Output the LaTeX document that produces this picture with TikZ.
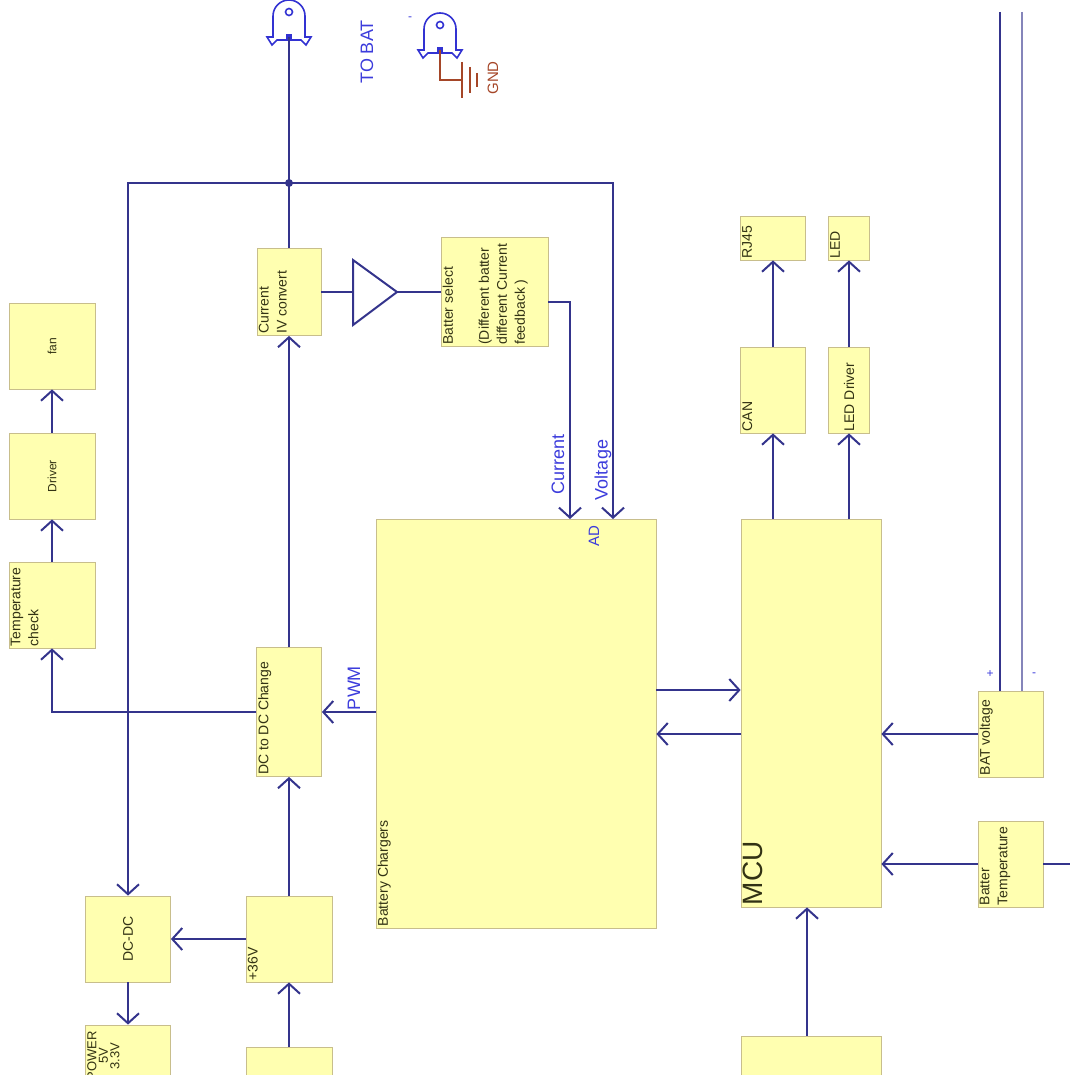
\documentclass[tikz,border=0pt]{standalone}
\usepackage{fontspec}
\setmainfont{Liberation Sans}
\usetikzlibrary{arrows.meta}
\definecolor{boxfill}{RGB}{255,255,176}
\definecolor{boxline}{RGB}{200,190,140}
\definecolor{boxtext}{RGB}{50,50,20}
\definecolor{wirecol}{RGB}{52,52,140}
\definecolor{sigblue}{RGB}{60,60,220}
\definecolor{pinblue}{RGB}{50,50,210}
\definecolor{gndbrown}{RGB}{165,70,40}
\begin{document}
\begin{tikzpicture}[x=1pt, y=-1pt,
    box/.style={draw=boxline, fill=boxfill, line width=0.8pt, inner sep=0pt},
    txt/.style={rotate=90, anchor=north west, align=left, inner sep=2pt, text=boxtext, font=\fontsize{14}{18}\selectfont},
    ctxt/.style={rotate=90, text=boxtext, font=\fontsize{14}{18}\selectfont},
    sig/.style={rotate=90, text=sigblue, font=\fontsize{18}{20}\selectfont},
    wire/.style={draw=wirecol, line width=2pt},
    arr/.style={wire, -{Straight Barb[length=10pt, width=22pt]}},
    pin/.style={draw=pinblue, line width=1.6pt},
    gnd/.style={draw=gndbrown, line width=1.6pt}]
  \useasboundingbox (0,0) rectangle (1069,1075);

  \node[box, minimum width=86pt, minimum height=86pt] (fan) at (52,346) {};
  \node[box, minimum width=86pt, minimum height=86pt] (driver) at (52,476) {};
  \node[box, minimum width=86pt, minimum height=86pt] (tcheck) at (52,605) {};
  \node[box, minimum width=64pt, minimum height=87pt] (iv) at (289,292) {};
  \node[box, minimum width=107pt, minimum height=109pt] (bsel) at (494.5,292) {};
  \node[box, minimum width=65pt, minimum height=44pt] (rj45) at (773,238) {};
  \node[box, minimum width=41pt, minimum height=44pt] (led) at (849,238) {};
  \node[box, minimum width=65pt, minimum height=86pt] (can) at (773,390) {};
  \node[box, minimum width=41pt, minimum height=86pt] (ledd) at (849,390) {};
  \node[box, minimum width=280pt, minimum height=409pt] (bchg) at (516,723.5) {};
  \node[box, minimum width=140pt, minimum height=388pt] (mcu) at (811,713) {};
  \node[box, minimum width=65pt, minimum height=129pt] (dcdc2) at (289,712) {};
  \node[box, minimum width=65pt, minimum height=86pt] (batv) at (1010.5,734) {};
  \node[box, minimum width=65pt, minimum height=86pt] (batt) at (1010.5,864) {};
  \node[box, minimum width=85pt, minimum height=86pt] (dcdc) at (128,939) {};
  \node[box, minimum width=86pt, minimum height=86pt] (v36) at (289,939) {};
  \node[box, minimum width=85pt, minimum height=86pt] (power) at (128,1068) {};
  \node[box, minimum width=86pt, minimum height=86pt] (src) at (289,1090) {};
  \node[box, minimum width=140pt, minimum height=86pt] (mcub) at (811,1079) {};

  \node[ctxt, font=\fontsize{12}{14}\selectfont] (fan-t) at (fan.center) {fan};
  \node[ctxt, font=\fontsize{12}{14}\selectfont] (driver-t) at (driver.center) {Driver};
  \node[txt] (tcheck-t) at (tcheck.south west) {Temperature\\check};
  \node[txt] (iv-t) at (iv.south west) {Current\\IV convert};
  \node[txt] (bsel-t) at (bsel.south west) {Batter select\\ \\(Different batter\\different Current\\feedback )};
  \node[txt] (rj45-t) at (rj45.south west) {RJ45};
  \node[txt] (led-t) at (led.south west) {LED};
  \node[txt] (can-t) at (can.south west) {CAN};
  \node[txt, anchor=west] (ledd-t) at (ledd.south) {LED Driver};
  \node[txt] (bchg-t) at (bchg.south west) {Battery Chargers};
  \node[txt, font=\fontsize{28}{30}\selectfont] (mcu-t) at (mcu.south west) {MCU};
  \node[txt] (dcdc2-t) at (dcdc2.south west) {DC to DC Change};
  \node[txt] (batv-t) at (batv.south west) {BAT voltage};
  \node[txt] (batt-t) at (batt.south west) {Batter\\Temperature};
  \node[ctxt] (dcdc-t) at (dcdc.center) {DC-DC};
  \node[txt] (v36-t) at (v36.south west) {+36V};
  \node[ctxt, align=center, anchor=north, inner sep=1pt, font=\fontsize{13}{11.5}\selectfont] (power-t) at (86,1056) {POWER\\5V\\3.3V};

  \coordinate (bat-p) at (289,37);
  \coordinate (bat-n) at (440,50);
  \foreach \p in {bat-p,bat-n}{
    \begin{scope}[shift={(\p)}]
      \draw[pin] (-16,0) -- (-16,-21) arc[start angle=180, end angle=360, radius=16] -- (16,0) -- (22,0) -- (17,8) -- (12,3) -- (-12,3) -- (-17,8) -- (-22,0) -- cycle;
      \draw[pin] (0,-25) circle[radius=3.5];
      \fill[pinblue] (-3,-3) rectangle (3,3);
    \end{scope}
  }
  \draw[gnd] (bat-n) -- ++(0,30) -- ++(22,0) coordinate (gnd-c);
  \draw[gnd] ([yshift=18pt]gnd-c) -- ([yshift=-18pt]gnd-c);
  \draw[gnd] ([shift={(8pt,13pt)}]gnd-c) -- ([shift={(8pt,-13pt)}]gnd-c);
  \draw[gnd] ([shift={(15pt,7pt)}]gnd-c) -- ([shift={(15pt,-7pt)}]gnd-c);
  \node[sig] (tobat) at (367,52) {TO BAT};
  \node[rotate=90, text=gndbrown, font=\fontsize{15}{17}\selectfont] (gnd-t) at (493,78) {GND};
  \node[text=sigblue, font=\fontsize{12}{12}\selectfont] (neg-t) at (410,19) {-};

  \coordinate (jn) at (289,183);
  \coordinate (bsel-o) at (548,302);
  \coordinate (bchg-i) at (570,519);
  \coordinate (bchg-v) at (613,519);
  \coordinate (amp-in) at (353,292);
  \coordinate (amp-out) at (397,292);
  \coordinate (lvl1) at (0,690);
  \coordinate (lvl2) at (0,734);
  \coordinate (bp-top) at (1000,12);
  \coordinate (bm-top) at (1022,12);
  \coordinate (edge-r) at (1075,864);

  \draw[wire] (bat-p) -- (jn) -- (iv.north);
  \fill[wirecol] (jn) circle[radius=4];
  \draw[arr] (jn) -| (dcdc.north);
  \draw[arr] (jn) -| (bchg-v);
  \draw[wire] (353,260) -- (amp-out) -- (353,325) -- cycle;
  \draw[wire] (iv.east) -- (amp-in);
  \draw[wire] (amp-out) -- (bsel.west);
  \draw[arr] (bsel-o) -| (bchg-i);
  \node[sig] (cur-t) at (558,464) {Current};
  \node[sig] (volt-t) at (603,470) {Voltage};
  \node[sig, font=\fontsize{15}{17}\selectfont] (ad-t) at (594,536) {AD};

  \draw[arr] (dcdc2.east -| bchg.west) -- (dcdc2.east);
  \node[sig] (pwm-t) at (354,688) {PWM};
  \draw[arr] (dcdc2.west) -| (tcheck.south);
  \draw[arr] (tcheck.north) -- (driver.south);
  \draw[arr] (driver.north) -- (fan.south);
  \draw[arr] (dcdc2.north) -- (iv.south);
  \draw[arr] (v36.north) -- (dcdc2.south);
  \draw[arr] (v36.west) -- (dcdc.east);
  \draw[arr] (dcdc.south) -- (power.north);
  \draw[arr] (src.north) -- (v36.south);

  \draw[arr] (bchg.east |- lvl1) -- (mcu.west |- lvl1);
  \draw[arr] (mcu.west |- lvl2) -- (bchg.east |- lvl2);
  \draw[arr] (can.south |- mcu.north) -- (can.south);
  \draw[arr] (can.north) -- (rj45.south);
  \draw[arr] (ledd.south |- mcu.north) -- (ledd.south);
  \draw[arr] (ledd.north) -- (led.south);
  \draw[arr] (batv.west) -- (batv.west -| mcu.east);
  \draw[arr] (batt.west) -- (batt.west -| mcu.east);
  \draw[wire] (batt.east) -- (edge-r);
  \draw[arr] ([xshift=-4pt]mcub.north) -- ([xshift=-4pt]mcu.south);
  \draw[wire] (bp-top) -- (bp-top |- batv.north);
  \draw[wire, draw=wirecol!60] (bm-top) -- (bm-top |- batv.north);
  \node[text=sigblue, font=\fontsize{12}{12}\selectfont] (plus-t) at (990,674) {+};
  \node[text=sigblue, font=\fontsize{12}{12}\selectfont] (minus-t) at (1034,675) {-};
\end{tikzpicture}
\end{document}
